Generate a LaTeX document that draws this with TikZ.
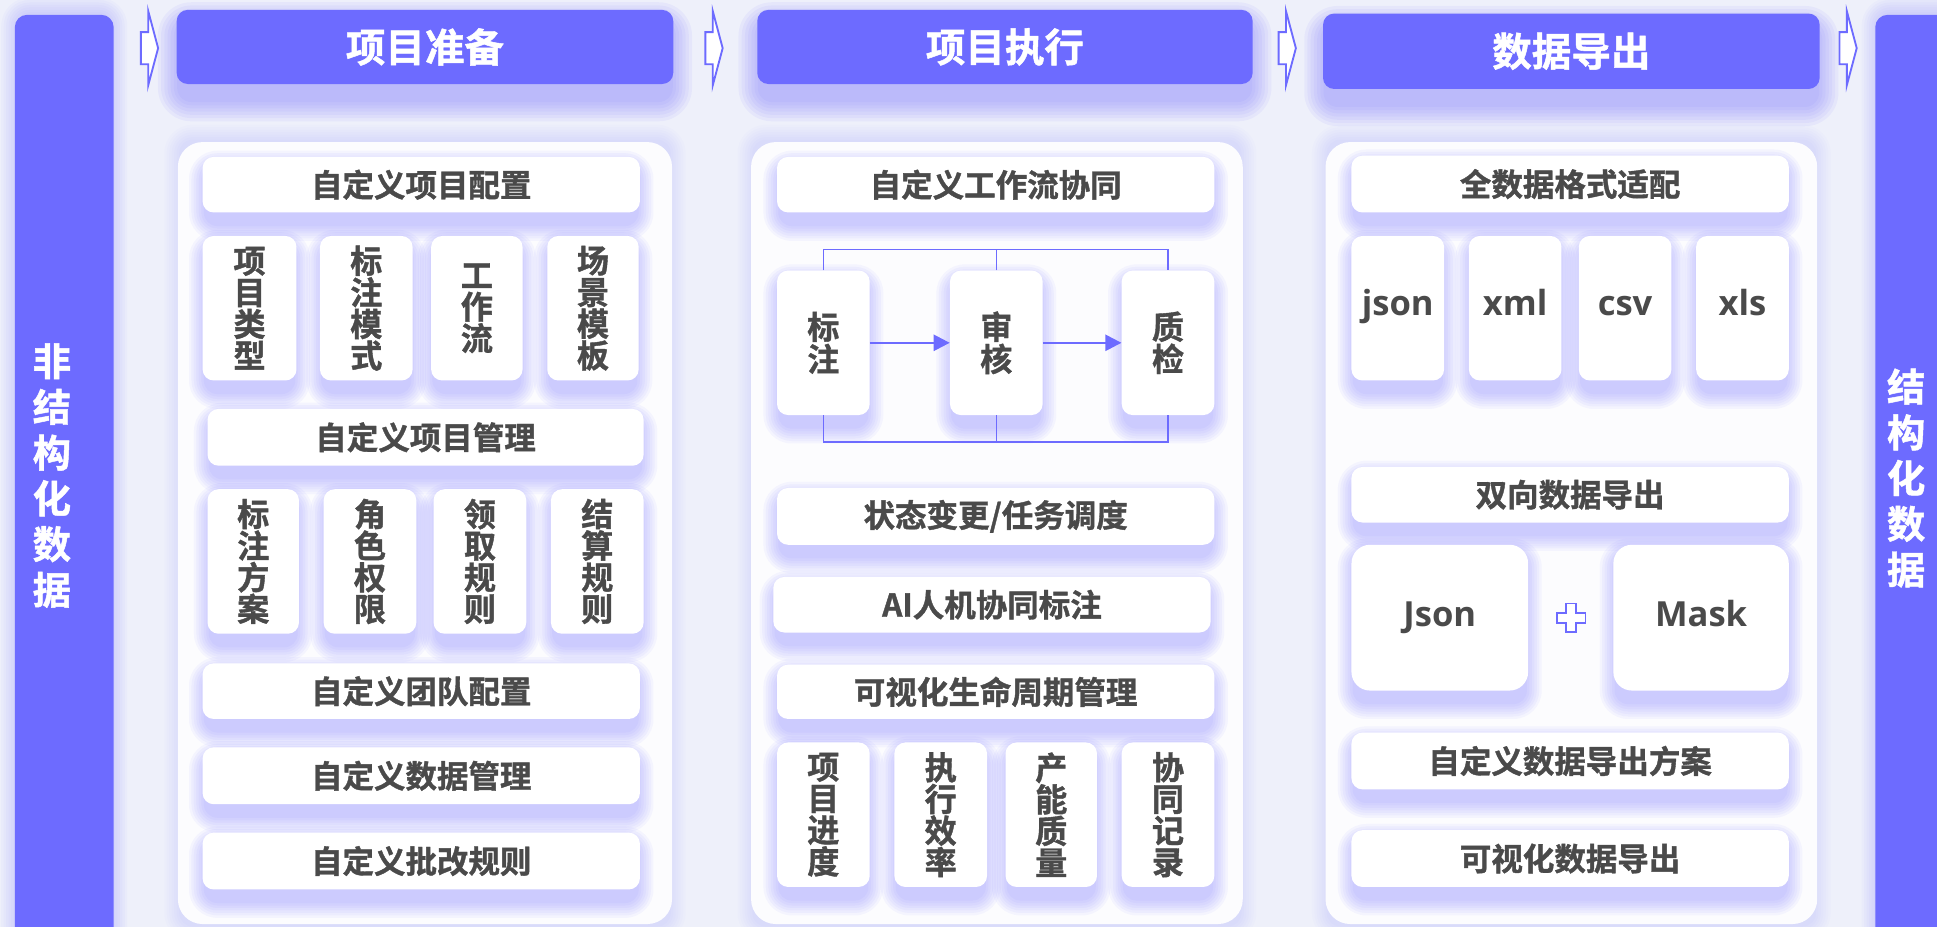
\documentclass[tikz,border=0pt]{standalone}
\usepackage{fontspec}
\newfontfamily\cjk{Noto Sans CJK SC Bold}[FakeBold=1.2]
\newfontfamily\lat{Open Sans}
\usetikzlibrary{arrows.meta}
\definecolor{mainpurple}{HTML}{6D6BFF}
\definecolor{glowc}{HTML}{7A76FF}
\definecolor{txt}{HTML}{4A4A4A}
\definecolor{bgc}{HTML}{EEF0FA}
\lineskiplimit=-50pt
\tikzset{
  card/.style={fill=white, rounded corners=9pt, inner sep=0pt, text=txt, align=center,
    font=\cjk\fontsize{25.5}{27}\selectfont},
  vcard/.style={card, font=\cjk\fontsize{26}{25.6}\selectfont},
  fcard/.style={card, font=\cjk\fontsize{26}{26}\selectfont},
  lcard/.style={card, font=\lat\bfseries\fontsize{28}{30}\selectfont, text height=18pt, text depth=7pt},
  bigcard/.style={card, font=\lat\bfseries\fontsize{28}{30}\selectfont, rounded corners=15pt, text height=20pt, text depth=6pt},
  head/.style={fill=mainpurple, rounded corners=9pt, inner sep=0pt, text=white,
    font=\cjk\fontsize{32}{36}\selectfont},
  sidebar/.style={fill=mainpurple, rounded corners=10pt, inner sep=0pt},
  sidetext/.style={text=white, align=center, inner sep=0pt,
    font=\cjk\fontsize{31}{37}\selectfont},
  panel/.style={fill=white, fill opacity=0.92, rounded corners=20pt, inner sep=0pt},
  flow/.style={draw=mainpurple, line width=1.3pt},
  flowarrow/.style={draw=mainpurple, line width=2pt, -{Triangle[length=13pt,width=13pt]}},
  chevstyle/.style={draw=mainpurple, line width=1.5pt, fill=white, line join=miter},
}
% soft purple glow: x1 y1 x2 y2 dy step opacity
\newcommand{\glowrect}[7]{%
  \foreach \k in {1,...,7}{%
    \pgfmathsetmacro\ee{\k*#6}%
    \pgfmathsetmacro\rr{9+\ee}%
    \fill[glowc, fill opacity=#7, rounded corners=\rr pt]
      ({#1+3-\ee},{#2+#5-\ee}) rectangle ({#3-3+\ee},{#4+#5+\ee});
  }%
}
% card: name x1 y1 x2 y2 style text
\newcommand{\card}[7]{%
  \glowrect{#2}{#3}{#4}{#5}{9}{2}{0.06}%
  \pgfmathsetmacro\cdw{#4-#2}\pgfmathsetmacro\cdh{#5-#3}%
  \pgfmathsetmacro\cdx{(#2+#4)/2}\pgfmathsetmacro\cdy{(#3+#5)/2}%
  \node[#6, minimum width=\cdw pt, minimum height=\cdh pt] (#1) at (\cdx,\cdy) {#7};%
}
\newcommand{\hcard}[6]{%
  \glowrect{#2}{#3}{#4}{#5}{12}{2.6}{0.075}%
  \pgfmathsetmacro\cdw{#4-#2}\pgfmathsetmacro\cdh{#5-#3}%
  \pgfmathsetmacro\cdx{(#2+#4)/2}\pgfmathsetmacro\cdy{(#3+#5)/2}%
  \node[head, minimum width=\cdw pt, minimum height=\cdh pt] (#1) at (\cdx,\cdy) {#6};%
}
\newcommand{\pnl}[5]{%
  \glowrect{#2}{#3}{#4}{#5}{0}{2}{0.025}%
  \pgfmathsetmacro\cdw{#4-#2}\pgfmathsetmacro\cdh{#5-#3}%
  \pgfmathsetmacro\cdx{(#2+#4)/2}\pgfmathsetmacro\cdy{(#3+#5)/2}%
  \node[panel, minimum width=\cdw pt, minimum height=\cdh pt] (#1) at (\cdx,\cdy) {};%
}
\newcommand{\chev}[1]{%
  \draw[chevstyle] ({#1-6},26) -- (#1,26) -- (#1,9) -- ({#1+8},39) -- (#1,69) -- (#1,52) -- ({#1-6},52) -- cycle;%
}
\begin{document}
\begin{tikzpicture}[x=1pt,y=-1pt]
\useasboundingbox (0,0) rectangle (1568,750);
\clip (0,0) rectangle (1568,750);
\fill[bgc] (0,0) rectangle (1568,750);

% side bars
\glowrect{12}{12}{92}{800}{0}{2}{0.04}
\node[sidebar, minimum width=80pt, minimum height=788pt] (lbar) at (52,406) {};
\node[sidetext] (ltext) at (42,385) {非\\结\\构\\化\\数\\据};
\glowrect{1518}{12}{1618}{800}{0}{2}{0.04}
\node[sidebar, minimum width=100pt, minimum height=788pt] (rbar) at (1568,406) {};
\node[sidetext] (rtext) at (1543,387) {结\\构\\化\\数\\据};

% chevrons
\chev{120}
\chev{577}
\chev{1041}
\chev{1495}

% panels
\pnl{p1}{144}{115}{544}{748}
\pnl{p2}{608}{115}{1006}{748}
\pnl{p3}{1073}{115}{1471}{748}

% headers
\hcard{h1}{143}{8}{545}{68}{项目准备}
\hcard{h2}{613}{8}{1014}{68}{项目执行}
\hcard{h3}{1071}{11}{1473}{72}{数据导出}

% panel 1
\card{a1}{164}{127}{518}{172}{card}{自定义项目配置}
\card{a2}{164}{191}{240}{308}{vcard}{项\\目\\类\\型}
\card{a3}{259}{191}{334}{308}{vcard}{标\\注\\模\\式}
\card{a4}{349}{191}{423}{308}{vcard}{工\\作\\流}
\card{a5}{443}{191}{517}{308}{vcard}{场\\景\\模\\板}
\card{a6}{168}{331}{521}{377}{card}{自定义项目管理}
\card{a7}{168}{396}{242}{513}{vcard}{标\\注\\方\\案}
\card{a8}{262}{396}{337}{513}{vcard}{角\\色\\权\\限}
\card{a9}{351}{396}{426}{513}{vcard}{领\\取\\规\\则}
\card{a10}{446}{396}{521}{513}{vcard}{结\\算\\规\\则}
\card{a11}{164}{537}{518}{582}{card}{自定义团队配置}
\card{a12}{164}{605}{518}{651}{card}{自定义数据管理}
\card{a13}{164}{674}{518}{720}{card}{自定义批改规则}

% panel 2
\card{b1}{629}{127}{983}{172}{card}{自定义工作流协同}
\card{f1}{629}{219}{704}{336}{fcard}{标\\注}
\card{f2}{769}{219}{844}{336}{fcard}{审\\核}
\card{f3}{908}{219}{983}{336}{fcard}{质\\检}
\coordinate (ftop) at (806,202);
\coordinate (fbot) at (806,358);
\draw[flow] (f1.north) -- (f1.north |- ftop) -- (f3.north |- ftop) -- (f3.north);
\draw[flow] (f2.north) -- (f2.north |- ftop);
\draw[flow] (f1.south) -- (f1.south |- fbot) -- (f3.south |- fbot) -- (f3.south);
\draw[flow] (f2.south) -- (f2.south |- fbot);
\draw[flowarrow] (f1.east) -- (f2.west);
\draw[flowarrow] (f2.east) -- (f3.west);
\card{b2}{629}{395}{983}{441}{card}{状态变更/任务调度}
\card{b3}{626}{467}{980}{512}{card}{AI人机协同标注}
\card{b4}{629}{538}{983}{582}{card}{可视化生命周期管理}
\card{b5}{629}{601}{704}{718}{vcard}{项\\目\\进\\度}
\card{b6}{724}{601}{799}{718}{vcard}{执\\行\\效\\率}
\card{b7}{814}{601}{888}{718}{vcard}{产\\能\\质\\量}
\card{b8}{908}{601}{983}{718}{vcard}{协\\同\\记\\录}

% panel 3
\card{c1}{1094}{126}{1448}{172}{card}{全数据格式适配}
\card{c2}{1094}{191}{1169}{308}{lcard}{json}
\card{c3}{1189}{191}{1264}{308}{lcard}{xml}
\card{c4}{1278}{191}{1353}{308}{lcard}{csv}
\card{c5}{1373}{191}{1448}{308}{lcard}{xls}
\card{c6}{1094}{378}{1448}{423}{card}{双向数据导出}
\card{c7}{1094}{441}{1237}{559}{bigcard}{Json}
\card{c8}{1306}{441}{1448}{559}{bigcard}{Mask}
\begin{scope}[shift={(1272,500)}]
\draw[chevstyle] (-4,-11.5) -- (4,-11.5) -- (4,-4) -- (11.5,-4) -- (11.5,4) -- (4,4) -- (4,11.5) -- (-4,11.5) -- (-4,4) -- (-11.5,4) -- (-11.5,-4) -- (-4,-4) -- cycle;
\end{scope}
\card{c9}{1094}{593}{1448}{639}{card}{自定义数据导出方案}
\card{c10}{1094}{672}{1448}{718}{card}{可视化数据导出}
\end{tikzpicture}
\end{document}
